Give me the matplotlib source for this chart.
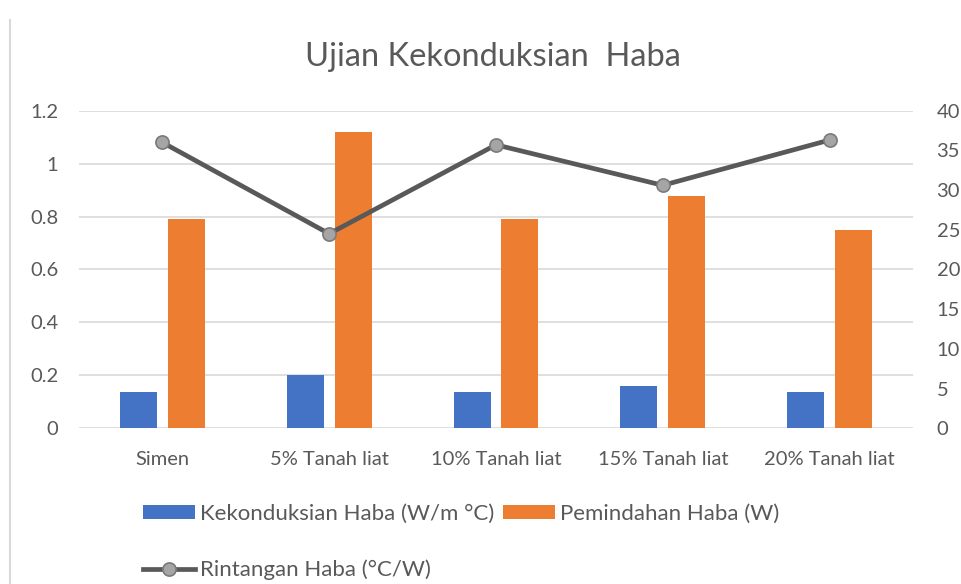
import numpy as np
from matplotlib import pyplot as plt
from matplotlib.lines import Line2D

plt.rcParams['font.family'] = ['Lato', 'DejaVu Sans']

# data
kategori = ['Simen', '5% Tanah liat', '10% Tanah liat', '15% Tanah liat', '20% Tanah liat']
kekonduksian = [0.136, 0.200, 0.136, 0.161, 0.136]   # W/m C
pemindahan = [0.79, 1.118, 0.79, 0.878, 0.75]        # W
rintangan = [36.0, 24.5, 35.7, 30.6, 36.3]           # C/W

biru = '#4472C4'
oren = '#ED7D31'
kelabu = '#595959'

fig = plt.figure(figsize=(9.61, 5.84), dpi=100)
ax = fig.add_axes([0.0822, 0.2666, 0.8678, 0.5439])
ax2 = ax.twinx()

x = np.arange(len(kategori))
w = 0.222
b1 = ax.bar(x - 0.143, kekonduksian, w, color=biru, zorder=3,
            label='Kekonduksian Haba (W/m °C)')
b2 = ax.bar(x + 0.143, pemindahan, w, color=oren, zorder=3,
            label='Pemindahan Haba (W)')
l1, = ax2.plot(x, rintangan, '-o', color=kelabu, linewidth=3.4,
               markersize=9.5, markerfacecolor='#a5a5a5',
               markeredgecolor='#7a7a7a', markeredgewidth=1.2,
               label='Rintangan Haba (°C/W)')

ax.set_xlim(-0.5, 4.5)
ax.set_ylim(0, 1.2)
ax.set_yticks(np.arange(0, 1.21, 0.2))
ax.set_yticklabels(['0', '0.2', '0.4', '0.6', '0.8', '1', '1.2'])
ax2.set_ylim(0, 40)
ax2.set_yticks(np.arange(0, 41, 5))

ax.set_xticks(x)
ax.set_xticklabels(kategori)
ax.grid(axis='y', color='#d9d9d9', linewidth=1.2, zorder=0)
ax.set_axisbelow(True)

for a in (ax, ax2):
    for s in a.spines.values():
        s.set_visible(False)
ax.tick_params(axis='y', length=0, pad=15, labelsize=14.5, labelcolor=kelabu)
ax.tick_params(axis='x', length=0, pad=16, labelsize=14.5, labelcolor=kelabu)
ax2.tick_params(axis='y', length=0, pad=17, labelsize=14.5, labelcolor=kelabu)

fig.text(0.513, 0.902, 'Ujian Kekonduksian  Haba', ha='center', va='center',
         fontsize=23.5, color=kelabu)

leg = fig.legend([b1, l1, b2], [b1.get_label(), l1.get_label(), b2.get_label()],
                 ncol=2, loc='upper left', bbox_to_anchor=(0.149, 0.138),
                 frameon=False, fontsize=16, handlelength=2.35, handleheight=0.59,
                 handletextpad=0.2, columnspacing=0.4, labelspacing=1.63,
                 borderaxespad=0, borderpad=0)
for t in leg.get_texts():
    t.set_color(kelabu)

# thin border line on the left edge of the picture
fig.add_artist(Line2D([0.0105, 0.0105], [0.0, 0.965], color='#d9d9d9',
                      linewidth=1.5, transform=fig.transFigure))

plt.savefig('out.png', dpi=100)
